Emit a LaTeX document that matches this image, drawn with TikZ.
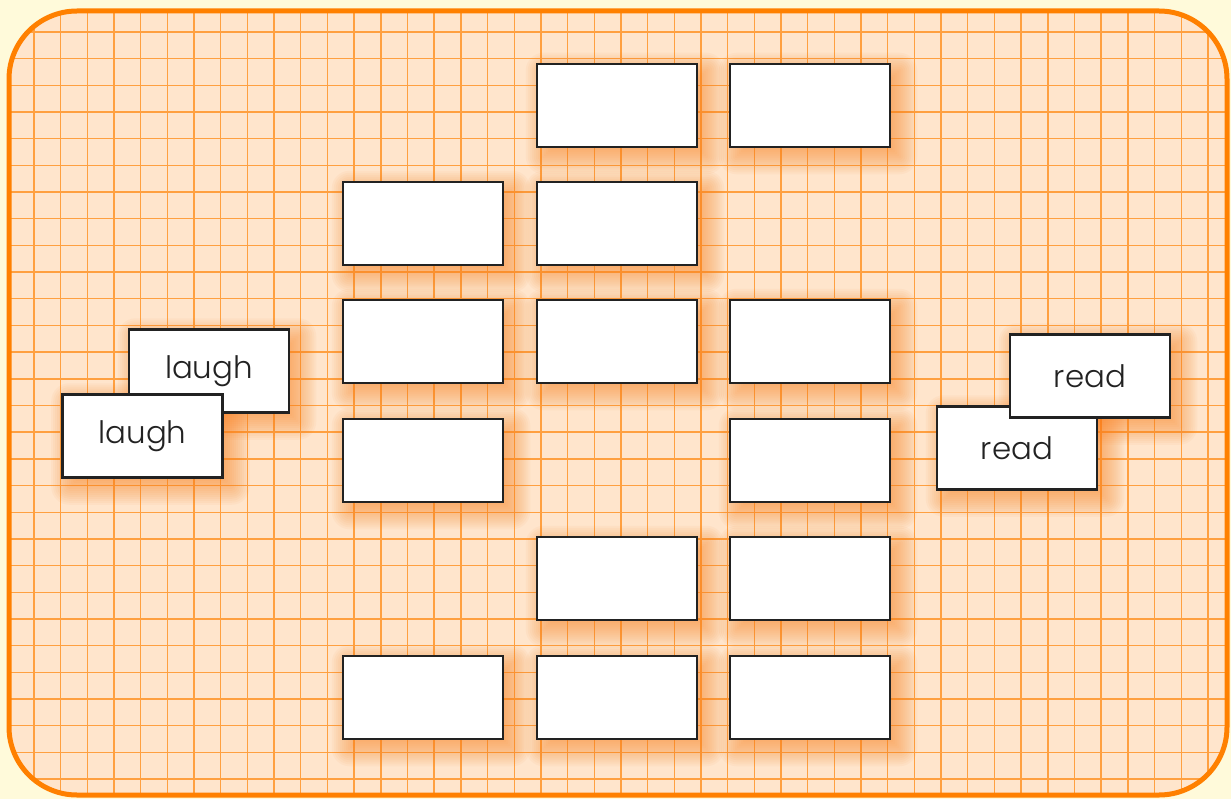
\documentclass[tikz,border=0pt]{standalone}
\usepackage{fontspec}
\IfFontExistsTF{Poppins Light}{\setmainfont{Poppins Light}}{\setmainfont{Poppins}}
\definecolor{outerbg}{RGB}{255,250,218}
\definecolor{innerbg}{RGB}{255,229,204}
\definecolor{gridc}{RGB}{255,160,64}
\definecolor{framec}{RGB}{255,128,0}
\definecolor{shadc}{RGB}{250,130,30}
\definecolor{inkc}{RGB}{34,34,34}
\pgfdeclarelayer{bg}
\pgfdeclarelayer{shad}
\pgfsetlayers{bg,shad,main}
\tikzset{
  card/.style={draw=inkc, line width=2.5bp, fill=white, minimum width=160bp, minimum height=83bp, inner sep=0pt, text=inkc, font=\fontsize{31}{35}\selectfont},
}
\newcommand\cardshadow[1]{%
  \begin{pgfonlayer}{shad}
  \foreach \r in {-10,-8,...,18}{%
    \fill[shadc, opacity=0.05, rounded corners={max(\r,1)*1bp}]
      ([xshift=8bp-\r*1bp, yshift=-8bp+\r*1bp]#1.north west) rectangle
      ([xshift=8bp+\r*1bp, yshift=-8bp-\r*1bp]#1.south east);
  }
  \end{pgfonlayer}}
\begin{document}
\begin{tikzpicture}[x=1bp,y=-1bp]
\useasboundingbox (0,0) rectangle (1231,799);
\begin{pgfonlayer}{bg}
\fill[outerbg] (0,0) rectangle (1231,799);
\begin{scope}
\clip[rounded corners=68bp] (9,11) rectangle (1227,795);
\fill[innerbg] (0,0) rectangle (1231,799);
\foreach \i in {0,...,46}{\draw[gridc, line width=1.4bp] ({7.3+26.68*\i},0) -- ({7.3+26.68*\i},799);}
\foreach \j in {0,...,30}{\draw[gridc, line width=1.4bp] (0,{5.3+26.68*\j}) -- (1231,{5.3+26.68*\j});}
\end{scope}
\draw[framec, line width=5bp, rounded corners=68bp] (9,11) rectangle (1227,795);
\end{pgfonlayer}

% grid of empty cards
\node[card] (r1c2) at (617,105.5) {};
\node[card] (r1c3) at (810,105.5) {};
\node[card] (r2c1) at (423,223.5) {};
\node[card] (r2c2) at (617,223.5) {};
\node[card] (r3c1) at (423,341.5) {};
\node[card] (r3c2) at (617,341.5) {};
\node[card] (r3c3) at (810,341.5) {};
\node[card] (r4c1) at (423,460.5) {};
\node[card] (r4c3) at (810,460.5) {};
\node[card] (r5c2) at (617,578.5) {};
\node[card] (r5c3) at (810,578.5) {};
\node[card] (r6c1) at (423,697.5) {};
\node[card] (r6c2) at (617,697.5) {};
\node[card] (r6c3) at (810,697.5) {};

% laugh pair
\node[card] (laughback) at (209,371) {laugh};
\node[card] (laughfront) at (142.5,436) {laugh};
% read pair
\node[card] (readfront) at (1017,448) {read};
\node[card] (readback) at (1090,376) {read};

\foreach \n in {r1c2,r1c3,r2c1,r2c2,r3c1,r3c2,r3c3,r4c1,r4c3,r5c2,r5c3,r6c1,r6c2,r6c3,laughback,laughfront,readfront,readback}{\cardshadow{\n}}
\end{tikzpicture}
\end{document}
